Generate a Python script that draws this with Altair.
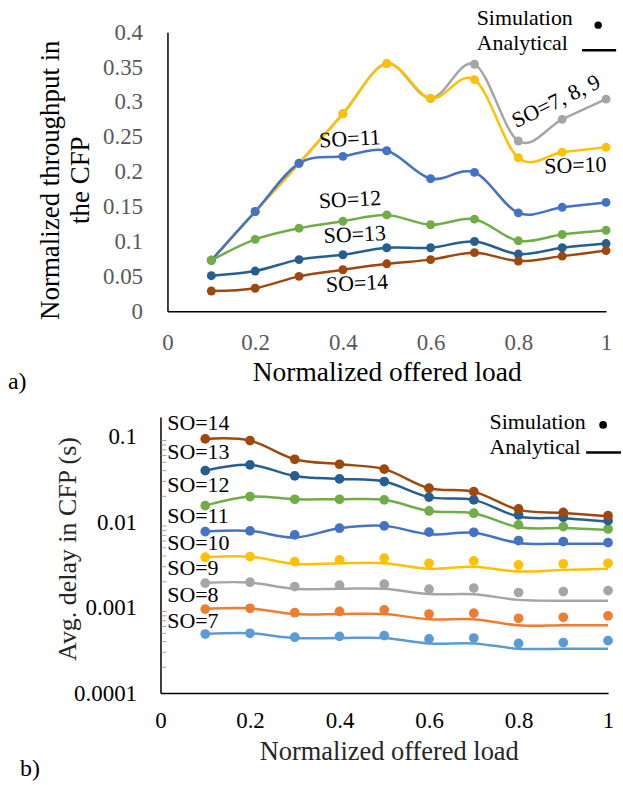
import altair as alt
import pandas as pd

FONT = "Liberation Serif"

# ---------------- data ----------------
load = [0.1, 0.2, 0.3, 0.4, 0.5, 0.6, 0.7, 0.8, 0.9, 1.0]

# (a) normalized throughput in the CFP (simulation == analytical)
thr_so7_9 = [0.073, 0.143, 0.212, 0.283, 0.355, 0.305, 0.354, 0.244, 0.275, 0.304]
thr_so10 = [0.073, 0.143, 0.212, 0.283, 0.355, 0.305, 0.332, 0.220, 0.228, 0.235]
thr_so11 = [0.073, 0.143, 0.212, 0.222, 0.230, 0.190, 0.199, 0.141, 0.149, 0.156]
thr_so12 = [0.073, 0.103, 0.119, 0.129, 0.138, 0.124, 0.132, 0.101, 0.110, 0.116]
thr_so13 = [0.051, 0.0576, 0.074, 0.081, 0.091, 0.091, 0.100, 0.082, 0.091, 0.097]
thr_so14 = [0.029, 0.033, 0.050, 0.0595, 0.068, 0.074, 0.084, 0.072, 0.079, 0.087]

top_names = ["SO=7, 8, 9", "SO=10", "SO=11", "SO=12", "SO=13", "SO=14"]
top_colors = ["#A5A5A5", "#FFC000", "#4472C4", "#70AD47", "#255E91", "#9E480E"]
top_values = [thr_so7_9, thr_so10, thr_so11, thr_so12, thr_so13, thr_so14]

# (b) average delay in CFP (s)
delay_sim_so7 = [0.00049, 0.00050, 0.00045, 0.00046, 0.00047, 0.00043, 0.00044, 0.00038, 0.00039, 0.00041]
delay_ana_so7 = [0.00049, 0.00050, 0.00044, 0.00044, 0.00044, 0.00038, 0.00038, 0.00033, 0.00033, 0.00033]
delay_sim_so8 = [0.00096, 0.00098, 0.00087, 0.00090, 0.00094, 0.00084, 0.00086, 0.00075, 0.00077, 0.00080]
delay_ana_so8 = [0.00097, 0.00098, 0.00084, 0.00084, 0.00084, 0.00073, 0.00073, 0.00062, 0.00062, 0.00062]
delay_sim_so9 = [0.00193, 0.00198, 0.00176, 0.00183, 0.00188, 0.00164, 0.00169, 0.00150, 0.00154, 0.00158]
delay_ana_so9 = [0.00195, 0.00196, 0.00166, 0.00166, 0.00166, 0.00144, 0.00143, 0.00123, 0.00120, 0.00120]
delay_sim_so10 = [0.00388, 0.00394, 0.00345, 0.00361, 0.00379, 0.00330, 0.00352, 0.00316, 0.00325, 0.00330]
delay_ana_so10 = [0.00388, 0.00394, 0.00324, 0.00330, 0.00330, 0.00284, 0.00300, 0.00264, 0.00276, 0.00284]
delay_sim_so11 = [0.00774, 0.00788, 0.00708, 0.00848, 0.00903, 0.00762, 0.00760, 0.00608, 0.00592, 0.00575]
delay_ana_so11 = [0.00774, 0.00788, 0.00660, 0.00848, 0.00903, 0.00720, 0.00750, 0.00570, 0.00558, 0.00558]
delay_sim_so12 = [0.0156, 0.0199, 0.0185, 0.0185, 0.0182, 0.0135, 0.0127, 0.00927, 0.00886, 0.0083]
delay_ana_so12 = [0.0156, 0.0199, 0.0185, 0.0185, 0.0182, 0.0135, 0.0127, 0.0087, 0.0085, 0.0081]
delay_sim_so13 = [0.040, 0.0467, 0.0347, 0.032, 0.0298, 0.0196, 0.0182, 0.0121, 0.0114, 0.0104]
delay_ana_so13 = [0.040, 0.0467, 0.0347, 0.032, 0.0298, 0.0196, 0.0182, 0.0116, 0.0111, 0.0101]
delay_sim_so14 = [0.094, 0.0898, 0.0543, 0.0475, 0.0416, 0.0249, 0.0227, 0.01426, 0.0130, 0.0119]
delay_ana_so14 = [0.094, 0.0898, 0.0543, 0.0475, 0.0416, 0.0249, 0.0227, 0.0139, 0.0128, 0.0117]

bot_names = ["SO=7", "SO=8", "SO=9", "SO=10", "SO=11", "SO=12", "SO=13", "SO=14"]
bot_colors = ["#5B9BD5", "#ED7D31", "#A5A5A5", "#FFC000", "#4472C4", "#70AD47", "#255E91", "#9E480E"]
bot_sim = [delay_sim_so7, delay_sim_so8, delay_sim_so9, delay_sim_so10,
           delay_sim_so11, delay_sim_so12, delay_sim_so13, delay_sim_so14]
bot_ana = [delay_ana_so7, delay_ana_so8, delay_ana_so9, delay_ana_so10,
           delay_ana_so11, delay_ana_so12, delay_ana_so13, delay_ana_so14]

# annotation anchors (data coordinates)
top_label_text = ["SO=7, 8, 9", "SO=10", "SO=11", "SO=12", "SO=13", "SO=14"]
top_label_x = [0.886, 0.930, 0.416, 0.416, 0.427, 0.432]
top_label_y = [0.301, 0.209, 0.247, 0.160, 0.110, 0.040]
top_label_angle = [334, 358, 357, 357, 357, 357]

bot_label_text = ["SO=14", "SO=13", "SO=12", "SO=11", "SO=10", "SO=9", "SO=8", "SO=7"]
bot_label_x = [0.015] * 8
bot_label_y = [0.146, 0.0668, 0.0272, 0.0118, 0.00575, 0.00289, 0.00141, 0.000698]

# ---------------- tables ----------------
top_rows = []
for name, vals in zip(top_names, top_values):
    for x, v in zip(load, vals):
        top_rows.append({"series": name, "load": x, "thr": v})
top_df = pd.DataFrame(top_rows)

bot_rows = []
for name, s, a in zip(bot_names, bot_sim, bot_ana):
    for x, vs, va in zip(load, s, a):
        bot_rows.append({"series": name, "load": x, "sim": vs, "ana": va})
bot_df = pd.DataFrame(bot_rows)

top_lab_df = pd.DataFrame({"x": top_label_x, "y": top_label_y, "t": top_label_text, "a": top_label_angle})
bot_lab_df = pd.DataFrame({"x": bot_label_x, "y": bot_label_y, "t": bot_label_text})

minor = [k * 10.0 ** d for d in (-4, -3, -2) for k in range(2, 10)]
minor_df = pd.DataFrame({"y": minor})

# ---------------- top chart ----------------
TW, TH = 447, 280
xs_top = alt.Scale(domain=[0, 1], range=[7, TW], nice=False)
ys_top = alt.Scale(domain=[0, 0.4], nice=False)
col_top = alt.Scale(domain=top_names, range=top_colors)

top_xaxis = alt.Axis(values=[0, 0.2, 0.4, 0.6, 0.8, 1], format="~g", title="Normalized offered load",
                     grid=False, ticks=False, tickSize=0, domainColor="black", domainWidth=1.5,
                     labelFont=FONT, labelFontSize=23, labelColor="#595959", labelBaseline="middle",
                     labelFlush=False, labelPadding=31,
                     titleFont=FONT, titleFontSize=27.5, titleFontWeight="normal",
                     titleColor="black", titleX=227, titleY=61, titleBaseline="middle")
top_yaxis = alt.Axis(values=[0, 0.05, 0.1, 0.15, 0.2, 0.25, 0.3, 0.35, 0.4], format="~g",
                     title=["Normalized throughput in", "the CFP"], offset=-7,
                     grid=False, ticks=False, tickSize=0, domainColor="black", domainWidth=1.5,
                     labelFont=FONT, labelFontSize=23, labelColor="#595959", labelPadding=25,
                     titleFont=FONT, titleFontSize=27, titleFontWeight="normal", titleColor="black",
                     titleX=-117, titleY=148, titleBaseline="middle", titleLineHeight=30)


def tx(field):
    return alt.X(field, scale=xs_top, axis=top_xaxis)


def ty(field):
    return alt.Y(field, scale=ys_top, axis=top_yaxis)


t_lines = alt.Chart(top_df).mark_line(interpolate="cardinal", strokeWidth=2.5).encode(
    x=tx("load:Q"), y=ty("thr:Q"),
    color=alt.Color("series:N", scale=col_top, legend=None),
)
t_pts = alt.Chart(top_df).mark_circle(size=80, opacity=1).encode(
    x=tx("load:Q"), y=ty("thr:Q"),
    color=alt.Color("series:N", scale=col_top, legend=None),
)
t_labels = alt.Chart(top_lab_df).mark_text(font=FONT, fontSize=22, color="black", align="center",
                                           baseline="middle").encode(
    x=tx("x:Q"), y=ty("y:Q"), text="t:N",
    angle=alt.Angle("a:Q", scale=None),
)
t_leg_text = alt.Chart(pd.DataFrame({"x": [0.705, 0.705], "y": [0.42, 0.384],
                                     "t": ["Simulation", "Analytical"]})).mark_text(
    font=FONT, fontSize=22, color="black", align="left", baseline="middle").encode(
    x=tx("x:Q"), y=ty("y:Q"), text="t:N")
t_leg_dot = alt.Chart(pd.DataFrame({"x": [0.982], "y": [0.41]})).mark_circle(
    size=55, opacity=1, color="black").encode(x=tx("x:Q"), y=ty("y:Q"))
t_leg_line = alt.Chart(pd.DataFrame({"x": [0.945], "x2": [1.023], "y": [0.374]})).mark_rule(
    color="black", strokeWidth=2.5).encode(x=tx("x:Q"), x2="x2:Q", y=ty("y:Q"))
t_tag = alt.Chart(pd.DataFrame({"t": ["a)"]})).mark_text(
    font=FONT, fontSize=24, color="black", align="left", baseline="middle").encode(
    x=alt.value(-153), y=alt.value(351), text="t:N")

top = alt.layer(t_lines, t_pts, t_labels, t_leg_text, t_leg_dot, t_leg_line, t_tag).properties(
    width=TW, height=TH)

# ---------------- bottom chart ----------------
BW, BH = 449, 277
xs_bot = alt.Scale(domain=[0, 1], nice=False)
ys_bot = alt.Scale(type="log", domain=[0.0001, 0.17], nice=False)
col_bot = alt.Scale(domain=bot_names, range=bot_colors)

bot_xaxis = alt.Axis(values=[0, 0.2, 0.4, 0.6, 0.8, 1], format="~g", title="Normalized offered load",
                     grid=False, ticks=False, tickSize=0, domainColor="black", domainWidth=1.5,
                     labelFont=FONT, labelFontSize=23, labelColor="black", labelBaseline="middle",
                     labelFlush=False, labelPadding=28,
                     titleFont=FONT, titleFontSize=26.5, titleFontWeight="normal",
                     titleColor="#262626", titleX=229, titleY=59, titleBaseline="middle")
bot_yaxis = alt.Axis(values=[0.0001, 0.001, 0.01, 0.1], format="~g", title="Avg. delay in CFP (s)",
                     grid=False, ticks=False, tickSize=0, domainColor="black", domainWidth=1.5,
                     labelFont=FONT, labelFontSize=23, labelColor="black", labelPadding=24,
                     titleFont=FONT, titleFontSize=26, titleFontWeight="normal", titleColor="#262626",
                     titleX=-93, titleY=132, titleBaseline="middle")


def bx(field):
    return alt.X(field, scale=xs_bot, axis=bot_xaxis)


def by(field):
    return alt.Y(field, scale=ys_bot, axis=bot_yaxis)


b_minor = alt.Chart(minor_df).mark_rule(color="#A6A6A6", strokeWidth=1).encode(
    x=alt.value(1), x2=alt.value(6), y=by("y:Q"))
b_lines = alt.Chart(bot_df).mark_line(interpolate="cardinal", strokeWidth=2.5).encode(
    x=bx("load:Q"), y=by("ana:Q"),
    color=alt.Color("series:N", scale=col_bot, legend=None),
)
b_pts = alt.Chart(bot_df).mark_circle(size=95, opacity=1).encode(
    x=bx("load:Q"), y=by("sim:Q"),
    color=alt.Color("series:N", scale=col_bot, legend=None),
)
b_labels = alt.Chart(bot_lab_df).mark_text(font=FONT, fontSize=22, color="black", align="left",
                                           baseline="middle").encode(
    x=bx("x:Q"), y=by("y:Q"), text="t:N",
)
b_leg_text = alt.Chart(pd.DataFrame({"x": [0.735, 0.735], "y": [0.15, 0.0765],
                                     "t": ["Simulation", "Analytical"]})).mark_text(
    font=FONT, fontSize=22, color="black", align="left", baseline="middle").encode(
    x=bx("x:Q"), y=by("y:Q"), text="t:N")
b_leg_dot = alt.Chart(pd.DataFrame({"x": [0.989], "y": [0.137]})).mark_circle(
    size=60, opacity=1, color="black").encode(x=bx("x:Q"), y=by("y:Q"))
b_leg_line = alt.Chart(pd.DataFrame({"x": [0.951], "x2": [1.029], "y": [0.0651]})).mark_rule(
    color="black", strokeWidth=2.5).encode(x=bx("x:Q"), x2="x2:Q", y=by("y:Q"))
b_tag = alt.Chart(pd.DataFrame({"t": ["b)"]})).mark_text(
    font=FONT, fontSize=24, color="black", align="left", baseline="middle").encode(
    x=alt.value(-141), y=alt.value(353), text="t:N")

bottom = alt.layer(b_minor, b_lines, b_pts, b_labels, b_leg_text, b_leg_dot, b_leg_line, b_tag).properties(
    width=BW, height=BH)

chart = alt.vconcat(top, bottom, spacing=106, bounds="flush").resolve_scale(
    color="independent", x="independent", y="independent"
).properties(
    padding={"left": 8, "top": 6, "right": 0, "bottom": 0}
).configure(background="white", view=alt.ViewConfig(strokeWidth=0, stroke="transparent"))

chart.save("out.html", embed_options={"renderer": "svg", "actions": False})
